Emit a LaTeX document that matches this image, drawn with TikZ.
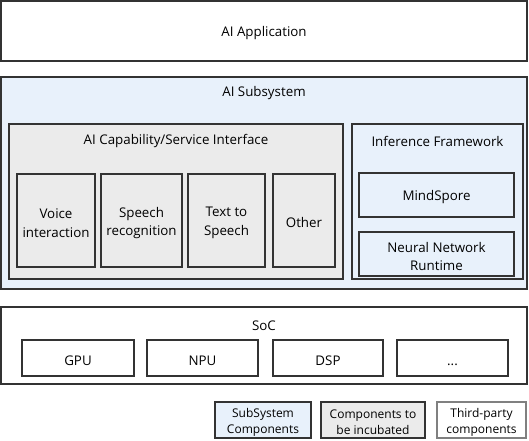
\documentclass[tikz,border=0pt]{standalone}
\usepackage{fontspec}
\setmainfont{Open Sans}
\usetikzlibrary{backgrounds,fit}
\pgfdeclarelayer{edgelayer}
\pgfdeclarelayer{nodelayer}
\pgfsetlayers{edgelayer,nodelayer,main}
\definecolor{subblue}{HTML}{E8F1FB}
\definecolor{incgray}{HTML}{EBEBEB}
\definecolor{linedark}{HTML}{333333}
\definecolor{linegray}{HTML}{808080}
\tikzset{font=\fontsize{10}{14}\selectfont}
\tikzstyle{none}=[inner sep=0pt,align=center,yshift=-1.8pt]
\tikzstyle{box}=[draw=linedark,line width=0.8pt,inner sep=0pt]
\tikzstyle{sub}=[box,fill=subblue]
\tikzstyle{inc}=[box,fill=incgray]
\tikzstyle{third}=[box,fill=white]
\tikzstyle{legend}=[none,font=\fontsize{9}{12}\selectfont]

\begin{document}
\begin{tikzpicture}[x=0.75pt,y=-0.75pt]
	\useasboundingbox (0,0) rectangle (529,440);
	\begin{pgfonlayer}{edgelayer}
		\node [style=third, fit={(1,1) (527,61)}] (0) {};
		\node [style=sub, fit={(1,77) (527,289)}] (1) {};
		\node [style=inc, fit={(9,124) (343,279)}] (2) {};
		\node [style=sub, fit={(352,124) (523,279)}] (3) {};
		\node [style=third, fit={(1,307) (527,384)}] (4) {};
		\node [style=inc, fit={(17,174) (95,267)}] (5) {};
		\node [style=inc, fit={(101,174) (182,267)}] (6) {};
		\node [style=inc, fit={(188,174) (265,267)}] (7) {};
		\node [style=inc, fit={(273,174) (335,267)}] (8) {};
		\node [style=sub, fit={(359,173) (514,217)}] (9) {};
		\node [style=sub, fit={(359,232) (514,276)}] (10) {};
		\node [style=third, fit={(22,340) (134,376)}] (11) {};
		\node [style=third, fit={(147,340) (258,376)}] (12) {};
		\node [style=third, fit={(273,340) (383,376)}] (13) {};
		\node [style=third, fit={(397,340) (508,376)}] (14) {};
		\node [style=sub, fit={(215,402) (311,438)}] (15) {};
		\node [style=inc, fit={(321,402) (425,438)}] (16) {};
		\node [style=third, draw=linegray, fit={(437,402) (526,438)}] (17) {};
	\end{pgfonlayer}
	\begin{pgfonlayer}{nodelayer}
		\node [style=none] (18) at (0.center) {AI Application};
		\node [style=none] (19) at (264,91) {AI Subsystem};
		\node [style=none] (20) at (176,139) {AI Capability/Service Interface};
		\node [style=none] (21) at (437.5,139) {Inference Framework};
		\node [style=none] (22) at (264,323) {SoC};
		\node [style=none] (23) at (5.center) {Voice\\interaction};
		\node [style=none] (24) at (6.center) {Speech\\recognition};
		\node [style=none] (25) at (7.center) {Text to\\Speech};
		\node [style=none] (26) at (8.center) {Other};
		\node [style=none] (27) at (9.center) {MindSpore};
		\node [style=none] (28) at (10.center) {Neural Network\\Runtime};
		\node [style=none] (29) at (11.center) {GPU};
		\node [style=none] (30) at (12.center) {NPU};
		\node [style=none] (31) at (13.center) {DSP};
		\node [style=none] (32) at (14.center) {\vphantom{GPU}...};
		\node [style=legend] (33) at (15.center) {SubSystem\\Components};
		\node [style=legend] (34) at (16.center) {Components to\\be incubated};
		\node [style=legend] (35) at (17.center) {Third-party\\components};
	\end{pgfonlayer}
\end{tikzpicture}
\end{document}
